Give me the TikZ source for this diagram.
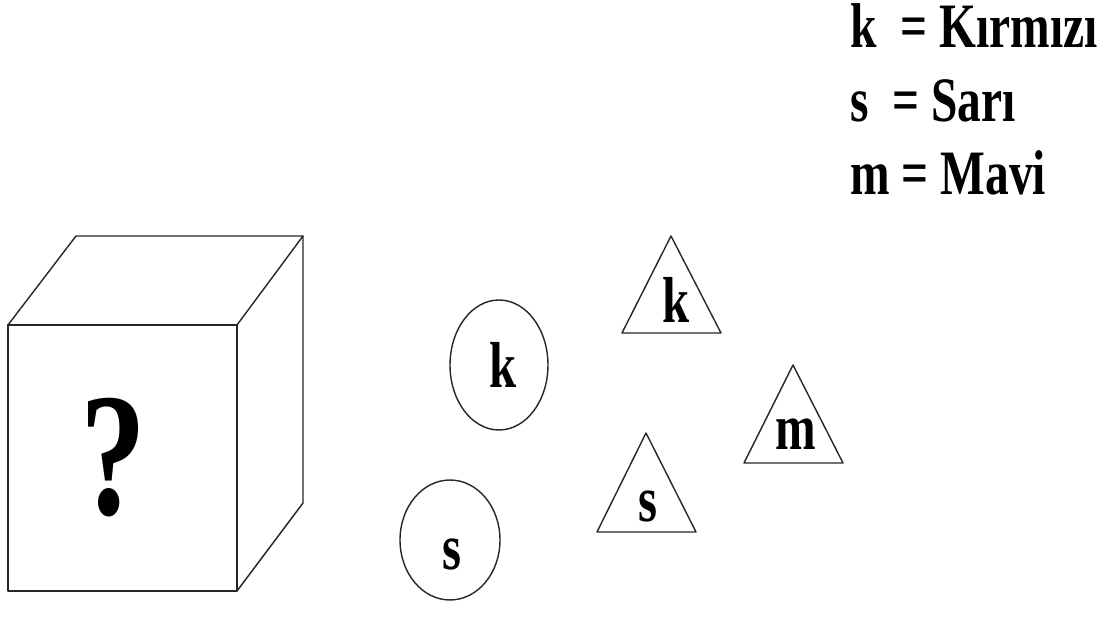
\documentclass[tikz,border=0pt]{standalone}
\usepackage{fontspec}
\usetikzlibrary{shapes.geometric}
\newfontfamily\figfont[FakeStretch=0.75]{Liberation Serif}
\tikzset{
  edge/.style={draw=black!85,line width=0.8pt,line join=round},
  coin/.style={ellipse,edge,inner sep=0pt},
  letter/.style={anchor=base,inner sep=0pt,font=\figfont\bfseries\fontsize{37}{40}\selectfont},
  legend/.style={anchor=base west,inner sep=0pt,font=\figfont\bfseries\fontsize{36}{40}\selectfont}
}

\begin{document}
\begin{tikzpicture}[x=0.02cm,y=-0.02cm]
\useasboundingbox (0,0) rectangle (1120,617);

% box with the unknown content
\coordinate (fa) at (8,325);
\coordinate (fb) at (237,325);
\coordinate (fc) at (237,591);
\coordinate (fd) at (8,591);
\coordinate (ba) at (76,236);
\coordinate (bb) at (303,236);
\coordinate (bc) at (303,503);
\draw[edge] (fa) -- (fb) -- (fc) -- (fd) -- cycle;
\draw[edge] (fa) -- (ba) -- (bb) -- (fb);
\draw[edge] (bb) -- (bc) -- (fc);
\node[anchor=base,inner sep=0pt,font=\figfont\bfseries\fontsize{100}{100}\selectfont] (quest) at (113,515) {?};

% circles
\node[coin,minimum width=1.96cm,minimum height=2.6cm] (ck) at (499,365) {};
\node[letter] (ckl) at (503,388) {k};
\node[coin,minimum width=2cm,minimum height=2.4cm] (cs) at (450,540) {};
\node[letter] (csl) at (452,570) {s};

% triangles
\draw[edge] (622,333) -- (671,236) -- (721,333) -- cycle;
\node[letter] (tk) at (676,323) {k};
\draw[edge] (744,463) -- (793,365) -- (843,463) -- cycle;
\node[letter] (tm) at (796,450) {m};
\draw[edge] (597,532) -- (646,433) -- (696,532) -- cycle;
\node[letter] (ts) at (648,522) {s};

% legend
\node[legend] (lk) at (850,48) {k\ \ = Kırmızı};
\node[legend] (ls) at (850,122) {s\ \ = Sarı};
\node[legend] (lm) at (850,195) {m = Mavi};

\end{tikzpicture}
\end{document}
